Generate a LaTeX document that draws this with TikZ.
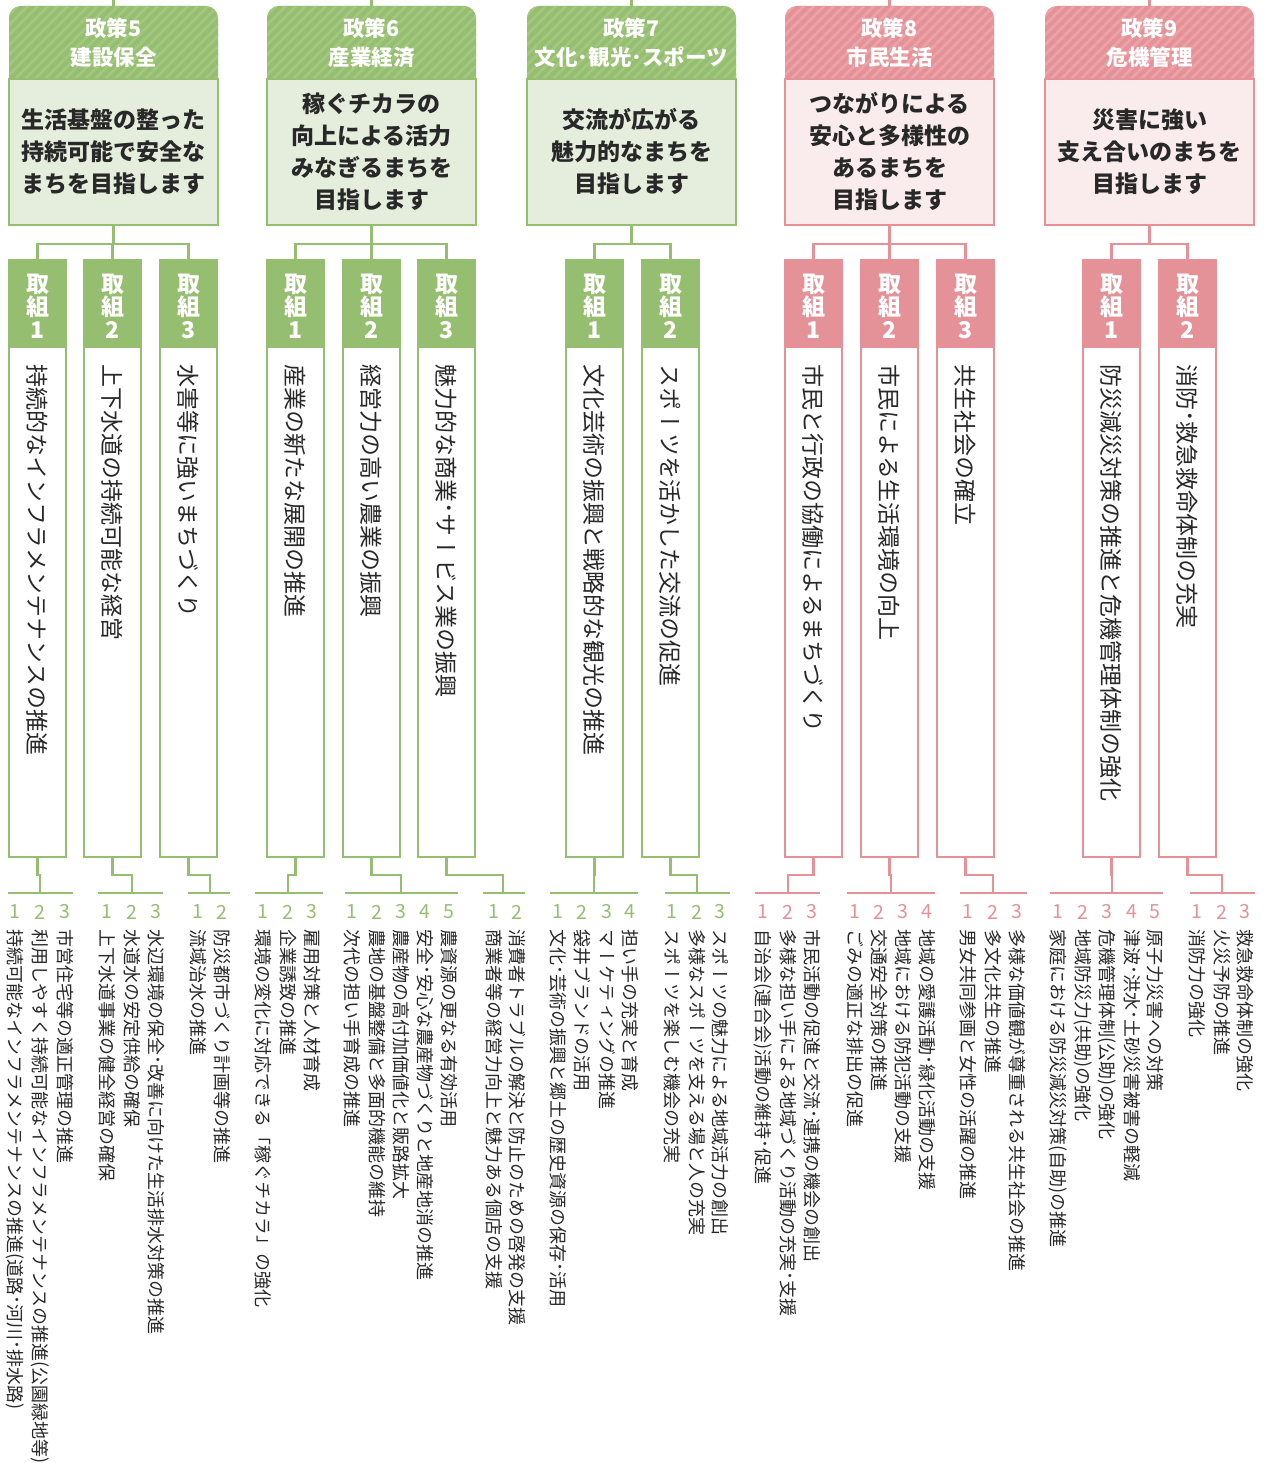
\documentclass[tikz,border=0pt]{standalone}
\usepackage{fontspec}
\newfontfamily\jp{Noto Sans CJK JP}
\newfontfamily\vjp[Vertical=RotatedGlyphs]{Noto Sans CJK JP}
\definecolor{gH}{RGB}{150,190,112}
\definecolor{gS}{RGB}{163,199,128}
\definecolor{gB}{RGB}{229,237,220}
\definecolor{pH}{RGB}{228,146,152}
\definecolor{pS}{RGB}{235,163,168}
\definecolor{pB}{RGB}{250,236,237}
\definecolor{txt}{RGB}{40,40,40}
% a horizontal glyph, turned with the column and centred on it
\newcommand\vp[1]{{\setbox0\hbox{\vjp 国}\setbox2\hbox{\jp #1}%
  \raise\dimexpr(\ht0-\dp0-\ht2+\dp2)/2\relax\box2}}
\newcommand\VO{\vp{(}}
\newcommand\VC{\vp{)}}
\newcommand\VD{\vp{･}}
\newcommand\VBO{\vp{「}}
\newcommand\VBC{\vp{」}}
\tikzset{
  conn/.style={line width=2.6pt},
  headtxt/.style={text=white, font=\jp\bfseries\fontsize{21.5}{29}\selectfont, align=center, inner sep=0pt},
  goaltxt/.style={text=txt, font=\jp\bfseries\fontsize{23}{32}\selectfont, align=center, inner sep=0pt},
  tktxt/.style={text=white, font=\jp\bfseries\fontsize{23}{23}\selectfont, align=center, inner sep=0pt},
  tkbody/.style={text=txt, rotate=-90, anchor=west, inner sep=0pt, font=\vjp\fontsize{23}{23}\selectfont},
  numtxt/.style={font=\jp\fontsize{19.5}{19.5}\selectfont, inner sep=0pt},
  itemtxt/.style={text=txt, rotate=-90, anchor=west, inner sep=0pt, font=\vjp\fontsize{18}{18}\selectfont},
}
% #1 name, #2 left x, #3 scheme, #4 header, #5 goal
\newcommand\PolicyBox[5]{%
  \coordinate (#1top) at (#2+104.5,0);
  \coordinate (#1t) at (#2+104.5,6);
  \draw[#3H, conn] (#1top) -- (#1t);
  \fill[#3H, rounded corners=12pt] (#2,6) rectangle ++(209,100);
  \begin{scope}
    \clip[rounded corners=12pt] (#2,6) rectangle ++(209,100);
    \foreach \s in {-90,-80,...,220} \draw[#3S, line width=2.6pt] (#2+\s,95) -- ++(95,-95);
  \end{scope}
  \draw[#3H, line width=2.6pt, fill=#3B] (#2,79) rectangle ++(209,146);
  \node[headtxt] (#1h) at (#2+104.5,43) {#4};
  \node[goaltxt] (#1) at (#2+104.5,152) {#5};
  \coordinate (#1b) at (#2+104.5,225);
}
% #1 name, #2 left x, #3 scheme, #4 number, #5 text
\newcommand\TorikumiBox[5]{%
  \fill[#3H] (#2,260) rectangle ++(57,88);
  \draw[#3H, line width=2.6pt] (#2,260) rectangle ++(57,597);
  \node[tktxt] (#1h) at (#2+28.5,306) {取\\組\\#4};
  \node[tkbody] (#1) at (#2+28.5,364) {#5};
  \coordinate (#1t) at (#2+28.5,260);
  \coordinate (#1b) at (#2+28.5,857);
}
% #1 name, #2 x, #3 scheme, #4 number, #5 text
\newcommand\ItemV[5]{%
  \node[numtxt, text=#3H] (#1n) at (#2,912) {#4};
  \node[itemtxt] (#1) at (#2,929) {#5};
}
% #1 torikumi name, #2 scheme, #3 drop x, #4 rail from, #5 rail to
\newcommand\Branch[5]{%
  \coordinate (#1d) at (#3,893);
  \coordinate (#1ra) at (#4,893);
  \coordinate (#1rb) at (#5,893);
  \draw[#2H, conn] (#1b) -- ++(0,18) -| (#1d);
  \draw[#2H, conn] (#1ra) -- (#1rb);
}
% #1 policy, #2 torikumi, #3 scheme
\newcommand\Up[3]{\draw[#3H, conn] (#2t) -- ++(0,-16) -| (#1b);}

\begin{document}
\begin{tikzpicture}[x=1pt, y=-1pt]
\useasboundingbox (0,0) rectangle (1270,1463);
\fill[white] (0,0) rectangle (1270,1463);

% ---------- Policy 5
\PolicyBox{P5}{9}{g}{政策5\\建設保全}{生活基盤の整った\\持続可能で安全な\\まちを目指します}
\TorikumiBox{T51}{9}{g}{1}{持続的なインフラメンテナンスの推進}
\TorikumiBox{T52}{84}{g}{2}{上下水道の持続可能な経営}
\TorikumiBox{T53}{160}{g}{3}{水害等に強いまちづくり}
\Up{P5}{T51}{g}\Up{P5}{T52}{g}\Up{P5}{T53}{g}
\Branch{T51}{g}{40}{8}{73}
\Branch{T52}{g}{132}{98}{163}
\Branch{T53}{g}{210}{188}{230}
\ItemV{I511}{15}{g}{1}{持続可能なインフラメンテナンスの推進\VO 道路\VD 河川\VD 排水路\VC}
\ItemV{I512}{40}{g}{2}{利用しやすく持続可能なインフラメンテナンスの推進\VO 公園緑地等\VC}
\ItemV{I513}{65}{g}{3}{市営住宅等の適正管理の推進}
\ItemV{I521}{107}{g}{1}{上下水道事業の健全経営の確保}
\ItemV{I522}{132}{g}{2}{水道水の安定供給の確保}
\ItemV{I523}{156}{g}{3}{水辺環境の保全\VD 改善に向けた生活排水対策の推進}
\ItemV{I531}{198}{g}{1}{流域治水の推進}
\ItemV{I532}{222}{g}{2}{防災都市づくり計画等の推進}

% ---------- Policy 6
\PolicyBox{P6}{267}{g}{政策6\\産業経済}{稼ぐチカラの\\向上による活力\\みなぎるまちを\\目指します}
\TorikumiBox{T61}{267}{g}{1}{産業の新たな展開の推進}
\TorikumiBox{T62}{343}{g}{2}{経営力の高い農業の振興}
\TorikumiBox{T63}{418}{g}{3}{魅力的な商業\VD サービス業の振興}
\Up{P6}{T61}{g}\Up{P6}{T62}{g}\Up{P6}{T63}{g}
\Branch{T61}{g}{288}{255}{323}
\Branch{T62}{g}{401}{345}{458}
\Branch{T63}{g}{503}{483}{525}
\ItemV{I611}{263}{g}{1}{環境の変化に対応できる\VBO 稼ぐチカラ\VBC の強化}
\ItemV{I612}{288}{g}{2}{企業誘致の推進}
\ItemV{I613}{312}{g}{3}{雇用対策と人材育成}
\ItemV{I621}{352}{g}{1}{次代の担い手育成の推進}
\ItemV{I622}{377}{g}{2}{農地の基盤整備と多面的機能の維持}
\ItemV{I623}{401}{g}{3}{農産物の高付加価値化と販路拡大}
\ItemV{I624}{425}{g}{4}{安全\VD 安心な農産物づくりと地産地消の推進}
\ItemV{I625}{449}{g}{5}{農資源の更なる有効活用}
\ItemV{I631}{494}{g}{1}{商業者等の経営力向上と魅力ある個店の支援}
\ItemV{I632}{517}{g}{2}{消費者トラブルの解決と防止のための啓発の支援}

% ---------- Policy 7
\PolicyBox{P7}{527}{g}{政策7\\文化･観光･スポーツ}{交流が広がる\\魅力的なまちを\\目指します}
\TorikumiBox{T71}{566}{g}{1}{文化芸術の振興と戦略的な観光の推進}
\TorikumiBox{T72}{642}{g}{2}{スポーツを活かした交流の促進}
\Up{P7}{T71}{g}\Up{P7}{T72}{g}
\Branch{T71}{g}{594}{550}{638}
\Branch{T72}{g}{697}{665}{730}
\ItemV{I711}{558}{g}{1}{文化\VD 芸術の振興と郷土の歴史資源の保存\VD 活用}
\ItemV{I712}{582}{g}{2}{袋井ブランドの活用}
\ItemV{I713}{607}{g}{3}{マーケティングの推進}
\ItemV{I714}{630}{g}{4}{担い手の充実と育成}
\ItemV{I721}{672}{g}{1}{スポーツを楽しむ機会の充実}
\ItemV{I722}{697}{g}{2}{多様なスポーツを支える場と人の充実}
\ItemV{I723}{720}{g}{3}{スポーツの魅力による地域活力の創出}

% ---------- Policy 8
\PolicyBox{P8}{785}{p}{政策8\\市民生活}{つながりによる\\安心と多様性の\\あるまちを\\目指します}
\TorikumiBox{T81}{785}{p}{1}{市民と行政の協働によるまちづくり}
\TorikumiBox{T82}{861}{p}{2}{市民による生活環境の向上}
\TorikumiBox{T83}{937}{p}{3}{共生社会の確立}
\Up{P8}{T81}{p}\Up{P8}{T82}{p}\Up{P8}{T83}{p}
\Branch{T81}{p}{788}{755}{820}
\Branch{T82}{p}{891}{847}{935}
\Branch{T83}{p}{993}{960}{1027}
\ItemV{I811}{763}{p}{1}{自治会\VO 連合会\VC 活動の維持\VD 促進}
\ItemV{I812}{788}{p}{2}{多様な担い手による地域づくり活動の充実\VD 支援}
\ItemV{I813}{812}{p}{3}{市民活動の促進と交流\VD 連携の機会の創出}
\ItemV{I821}{855}{p}{1}{ごみの適正な排出の促進}
\ItemV{I822}{879}{p}{2}{交通安全対策の推進}
\ItemV{I823}{903}{p}{3}{地域における防犯活動の支援}
\ItemV{I824}{927}{p}{4}{地域の愛護活動\VD 緑化活動の支援}
\ItemV{I831}{968}{p}{1}{男女共同参画と女性の活躍の推進}
\ItemV{I832}{993}{p}{2}{多文化共生の推進}
\ItemV{I833}{1017}{p}{3}{多様な価値観が尊重される共生社会の推進}

% ---------- Policy 9
\PolicyBox{P9}{1045}{p}{政策9\\危機管理}{災害に強い\\支え合いのまちを\\目指します}
\TorikumiBox{T91}{1083}{p}{1}{防災減災対策の推進と危機管理体制の強化}
\TorikumiBox{T92}{1159}{p}{2}{消防\VD 救急救命体制の充実}
\Up{P9}{T91}{p}\Up{P9}{T92}{p}
\Branch{T91}{p}{1112}{1050}{1163}
\Branch{T92}{p}{1222}{1190}{1255}
\ItemV{I911}{1058}{p}{1}{家庭における防災減災対策\VO 自助\VC の推進}
\ItemV{I912}{1083}{p}{2}{地域防災力\VO 共助\VC の強化}
\ItemV{I913}{1107}{p}{3}{危機管理体制\VO 公助\VC の強化}
\ItemV{I914}{1132}{p}{4}{津波\VD 洪水\VD 土砂災害被害の軽減}
\ItemV{I915}{1155}{p}{5}{原子力災害への対策}
\ItemV{I921}{1197}{p}{1}{消防力の強化}
\ItemV{I922}{1222}{p}{2}{火災予防の推進}
\ItemV{I923}{1245}{p}{3}{救急救命体制の強化}
\end{tikzpicture}
\end{document}
